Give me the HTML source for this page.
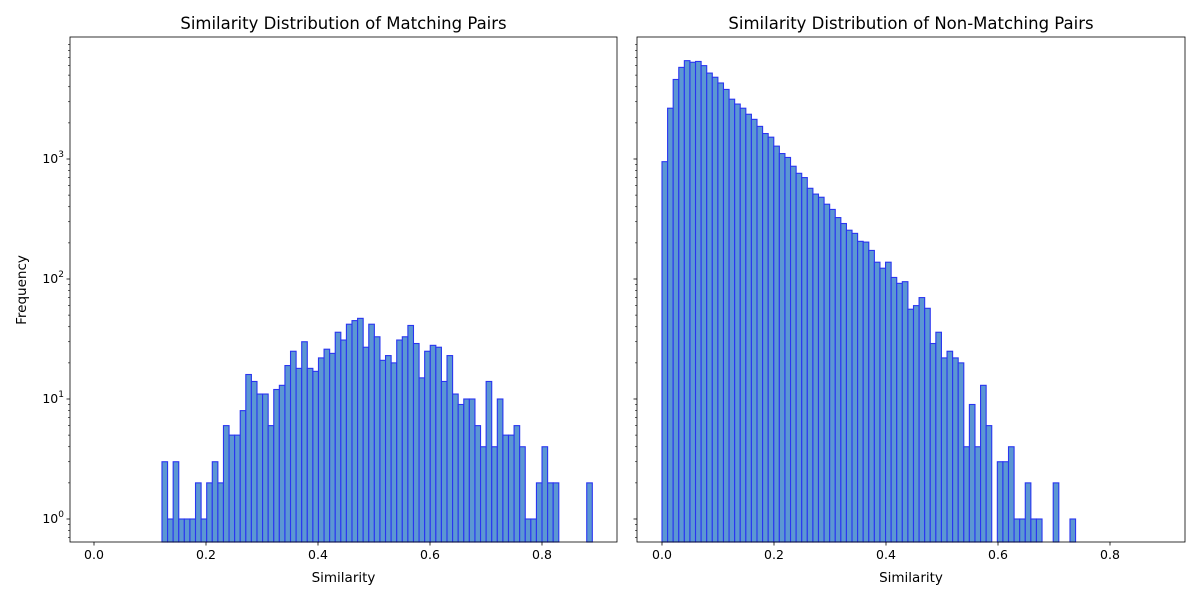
<!DOCTYPE html>
<html><head><meta charset="utf-8"><style>
html,body{margin:0;padding:0;background:#fff;}
svg{display:block;font-family:"DejaVu Sans","Liberation Sans",sans-serif;}
</style></head><body>
<svg id="chart" width="1200" height="600" viewBox="0 0 1200 600" xmlns="http://www.w3.org/2000/svg"></svg>
<script>
// ---- data ----
const binWidth = 0.00998;
const matchStart = 0.1214;
const matchCounts = [3,1,3,1,1,1,2,1,2,3, 2,6,5,5,8,16,14,11,11,6, 12,13,19,25,18,30,18,17,22,26, 24,36,31,42,45,47,27,42,33,21, 23,20,31,33,41,29,15,25,28,27, 14,23,11,9,10,10,6,4,14,4, 10,5,5,6,4,1,1,2,4,2, 2,0,0,0,0,0,2];
const nonMatchStart = 0.0;
const nonMatchCounts = [950,2650,4600,5800,6600,6400,6500,6000,5200,4800, 4300,3800,3150,2870,2650,2360,2140,1870,1630,1520, 1280,1110,1030,870,760,700,570,510,480,420, 380,325,290,255,240,206,203,173,138,123, 138,103,92,95,56,60,70,57,29,36, 22,25,22,20,4,9,4,13,6,0, 3,3,4,1,1,2,1,1,0,0, 2,0,0,1];
const xTicks = [0.0,0.2,0.4,0.6,0.8];
const xTickLabels = ["0.0","0.2","0.4","0.6","0.8"];
const yDecades = [0,1,2,3];
const panelTitles = ["Similarity Distribution of Matching Pairs","Similarity Distribution of Non-Matching Pairs"];

const NS = "http://www.w3.org/2000/svg";
const svg = document.getElementById('chart');
function mk(tag, attrs, parent){
  const e = document.createElementNS(NS, tag);
  for (const k in attrs) e.setAttribute(k, attrs[k]);
  (parent||svg).appendChild(e);
  return e;
}
const top_ = 37, bot = 542;
const logMin = -0.1917, logMax = 4.0167;
function yScale(v){ return bot - (Math.log10(v) - logMin) / (logMax - logMin) * (bot - top_); }

function panel(idx, left, right, zeroX, counts, start, showYLabels){
  const g = mk('g', {});
  
  
  const xs = v => zeroX + v * 560;
  const bars = mk('g', {}, g);
  
  
  counts.forEach((c, i) => {
    if (c <= 0) return;
    const x0 = xs(start + i * binWidth), x1 = xs(start + (i + 1) * binWidth);
    const y = yScale(c);
    const r = mk('rect', {x: x0, y: y, width: x1 - x0, height: bot - y, fill: '#5b97d3', stroke: '#2a35f0', 'stroke-width': 1.1}, bars);
    
    
  });
  const fr = mk('rect', {x: left, y: top_, width: right - left, height: bot - top_, fill: 'none', stroke: '#000', 'stroke-width': 0.8}, g);
  
  
  xTicks.forEach((t, i) => {
    const x = xs(t);
    mk('line', {x1: x, x2: x, y1: bot, y2: bot + 3.5, stroke: '#000', 'stroke-width': 0.8}, g);
    const tl = mk('text', {x: x, y: bot + 17, 'font-size': 12.5, 'text-anchor': 'middle', fill: '#000'}, g);
    tl.textContent = xTickLabels[i];
    
    
  });
  const xl = mk('text', {x: (left + right) / 2, y: 582, 'font-size': 13.5, 'text-anchor': 'middle', fill: '#000'}, g);
  xl.textContent = 'Similarity';
  
  
  yDecades.forEach(d => {
    const y = yScale(Math.pow(10, d));
    mk('line', {x1: left - 3.5, x2: left, y1: y, y2: y, stroke: '#000', 'stroke-width': 0.8}, g);
    if (showYLabels) {
      const t = mk('text', {x: left - 6, y: y + 4, 'font-size': 12.5, 'text-anchor': 'end', fill: '#000'}, g);
      t.innerHTML = '10<tspan dy="-6" font-size="9">' + d + '</tspan>';
      
      
    }
  });
  for (let d = -1; d <= 4; d++) for (let m = 2; m <= 9; m++) {
    const v = m * Math.pow(10, d);
    const lv = Math.log10(v);
    if (lv < logMin || lv > logMax) continue;
    const y = yScale(v);
    mk('line', {x1: left - 2, x2: left, y1: y, y2: y, stroke: '#000', 'stroke-width': 0.6}, g);
  }
  const title = mk('text', {x: (left + right) / 2, y: 29, 'font-size': 16.5, 'text-anchor': 'middle', fill: '#000'}, g);
  title.textContent = panelTitles[idx];
  
  
}
panel(0, 70, 617, 94, matchCounts, matchStart, true);
panel(1, 637, 1185, 662, nonMatchCounts, nonMatchStart, false);
const yl = mk('text', {x: 0, y: 0, 'font-size': 13.5, 'text-anchor': 'middle', fill: '#000', transform: 'translate(26,290) rotate(-90)'});
yl.textContent = 'Frequency';


</script>
</body></html>
